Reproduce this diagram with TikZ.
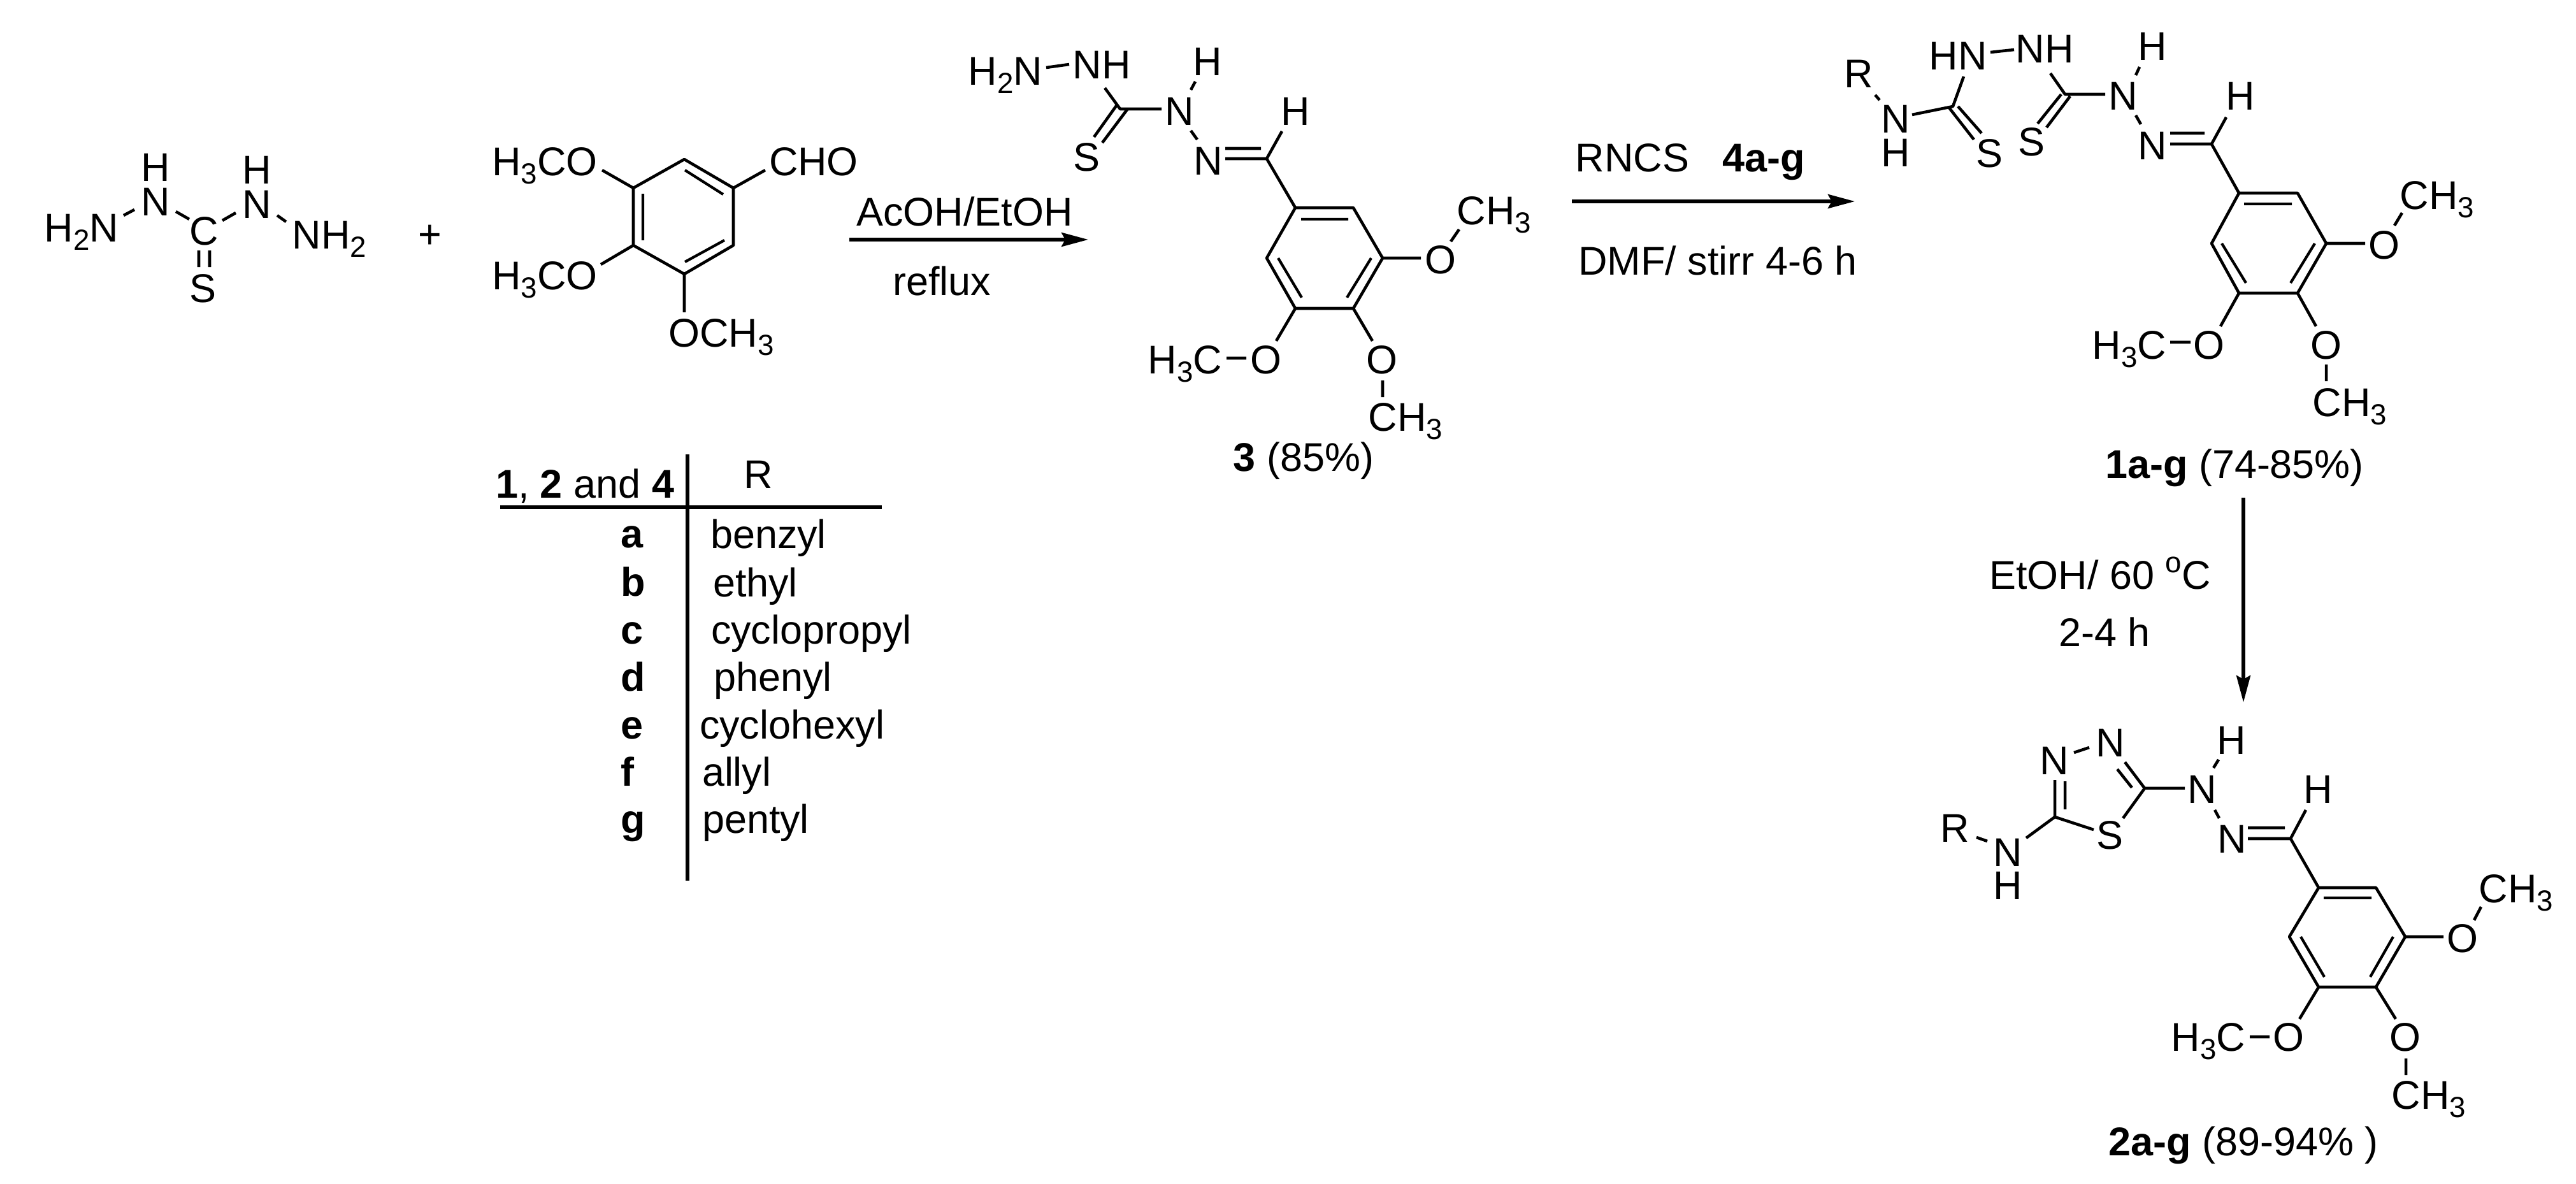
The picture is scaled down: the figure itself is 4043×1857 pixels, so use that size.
\documentclass[tikz,border=0pt]{standalone}
\usepackage{fontspec}
\setmainfont{Liberation Sans}
\usetikzlibrary{arrows.meta}
\newcommand\chemsub[1]{\raisebox{-0.22em}{\fontsize{13}{14}\selectfont #1}}
\newcommand\pts[1]{\foreach \n/\px/\py in {#1}{\coordinate (\n) at (\px,\py);}}
\tikzset{
  lab/.style={inner sep=0pt,outer sep=0pt,anchor=base,font=\fontsize{17.9}{20}\selectfont,text=black},
  labl/.style={lab,anchor=base west},
  bond/.style={line width=1.3pt,line join=round,black},
  inner/.style={line width=1.2pt,black},
  rule/.style={line width=1.45pt,black},
  arr/.style={line width=1.5pt,black,-{Stealth[length=4.2mm,width=2.2mm,inset=0.6mm]}}
}
\begin{document}
\begin{tikzpicture}[x=0.01cm,y=-0.01cm]
\useasboundingbox (0,0) rectangle (4043,1857);
\fill[white] (0,0) rectangle (4043,1857);
% ---------- thiocarbohydrazide
\node[lab] (aA) at (128,379) {H\chemsub{2}N};
\node[lab] (aB) at (244,284) {H};
\node[lab] (aC) at (244,338) {N};
\node[lab] (aD) at (320,384) {C};
\node[lab] (aE) at (403,288) {H};
\node[lab] (aF) at (403,342) {N};
\node[lab] (aG) at (517,390) {NH\chemsub{2}};
\node[lab] (aH) at (318,474) {S};
\node[lab] (plus) at (675,389) {+};
\pts{a1/194/338,a2/211/329,a3/276/332,a4/297/344,a5/349/346,a6/370/334,a7/435/338,a8/449/348,a9/312/393,a10/312/419,a11/329/393,a12/329/419}
\draw[bond] (a1)--(a2) (a3)--(a4) (a5)--(a6) (a7)--(a8) (a9)--(a10) (a11)--(a12);
% ---------- aldehyde
\pts{b1/1074/250,b2/1151/295,b3/1151/385,b4/1074/430,b5/994/385,b6/994/295,b7/1009/304,b8/1009/377,b9/1075/267,b10/1135/305,b11/1075/411,b12/1137/377,b13/945/267,b14/943/415,b15/1074/490,b16/1201/267}
\draw[bond] (b1)--(b2)--(b3)--(b4)--(b5)--(b6)--cycle;
\draw[inner] (b7)--(b8) (b9)--(b10) (b11)--(b12);
\draw[bond] (b6)--(b13) (b5)--(b14) (b4)--(b15) (b2)--(b16);
\node[lab] (bA) at (855,275) {H\chemsub{3}CO};
\node[lab] (bB) at (855,454) {H\chemsub{3}CO};
\node[lab] (bC) at (1132,544) {OCH\chemsub{3}};
\node[lab] (bD) at (1277,275) {CHO};
% ---------- arrow 1
\pts{c1/1333/376,c2/1708/376}
\draw[arr] (c1)--(c2);
\node[lab] (cA) at (1514,354) {AcOH/EtOH};
\node[lab] (cB) at (1478,463) {reflux};
% ---------- compound 3
\node[lab] (dA) at (1578,133) {H\chemsub{2}N};
\node[lab] (dB) at (1729,123) {NH};
\node[lab] (dC) at (1895,118) {H};
\node[lab] (dD) at (1851,196) {N};
\node[lab] (dE) at (1705,268) {S};
\node[lab] (dF) at (1896,274) {N};
\node[lab] (dG) at (2033,196) {H};
\node[lab] (dH) at (2261,429) {O};
\node[lab] (dI) at (2345,352) {CH\chemsub{3}};
\node[lab] (dJ) at (1860,586) {H\chemsub{3}C};
\node[lab] (dK) at (1987,586) {O};
\node[lab] (dL) at (2169,586) {O};
\node[lab] (dM) at (2206,676) {CH\chemsub{3}};
\node[lab] (dN) at (2046,739) {\textbf{3} (85\%)};
\pts{d1/1642/106,d2/1678/101,d3/1869/141,d4/1876/128,d5/1734/138,d6/1758/171,d7/1823/171,d8/1752/166,d9/1717/215,d10/1769/172,d11/1730/224,d12/1869/205,d13/1879/219,d14/1923/233,d15/1979/233,d16/1923/249,d17/1988/249,d18/2012/206}
\draw[bond] (d1)--(d2) (d3)--(d4) (d5)--(d6)--(d7) (d8)--(d9) (d10)--(d11) (d12)--(d13) (d14)--(d15) (d16)--(d17)--(d18);
\pts{e1/2033/326,e2/2124/326,e3/2170/405,e4/2124/484,e5/2033/484,e6/1988/405,e7/2042/344,e8/2116/344,e9/2152/405,e10/2114/467,e11/2006/405,e12/2043/467,e13/2230/405,e14/2277/379,e15/2290/360,e16/2003/535,e17/1925/562,e18/1956/562,e19/2154/535,e20/2170/597,e21/2170/623}
\draw[bond] (d17)--(e1);
\draw[bond] (e1)--(e2)--(e3)--(e4)--(e5)--(e6)--cycle;
\draw[inner] (e7)--(e8) (e9)--(e10) (e11)--(e12);
\draw[bond] (e3)--(e13) (e14)--(e15) (e5)--(e16) (e17)--(e18) (e4)--(e19) (e20)--(e21);
% ---------- arrow 2
\pts{f1/2467/316,f2/2911/316}
\draw[arr] (f1)--(f2);
\node[lab] (fA) at (2562,269) {RNCS};
\node[lab] (fB) at (2768,269) {\textbf{4a-g}};
\node[lab] (fC) at (2696,431) {DMF/ stirr 4-6 h};
% ---------- compound 1
\node[lab] (gA) at (2917,137) {R};
\node[lab] (gB) at (2975,208) {N};
\node[lab] (gC) at (2975,261) {H};
\node[lab] (gD) at (3122,262) {S};
\node[lab] (gE) at (3073,109) {HN};
\node[lab] (gF) at (3209,98) {NH};
\node[lab] (gG) at (3188,244) {S};
\node[lab] (gH) at (3332,172) {N};
\node[lab] (gI) at (3378,94) {H};
\node[lab] (gJ) at (3378,250) {N};
\node[lab] (gK) at (3516,172) {H};
\node[lab] (gL) at (3742,406) {O};
\node[lab] (gM) at (3825,328) {CH\chemsub{3}};
\node[lab] (gN) at (3342,563) {H\chemsub{3}C};
\node[lab] (gO) at (3467,563) {O};
\node[lab] (gP) at (3651,563) {O};
\node[lab] (gQ) at (3688,653) {CH\chemsub{3}};
\node[lab] (gR) at (3507,750) {\textbf{1a-g} (74-85\%)};
\pts{g1/2943/149,g2/2950/157,g3/3001/180,g4/3065/167,g5/3059/169,g6/3098/219,g7/3073/167,g8/3110/209,g9/3082/120,g10/3124/82,g11/3161/78,g12/3218/115,g13/3241/148,g14/3235/148,g15/3198/194,g16/3249/151,g17/3212/200,g18/3304/148,g19/3352/118,g20/3358/105,g21/3352/181,g22/3360/195,g23/3406/209,g24/3460/209,g25/3406/226,g26/3471/226,g27/3494/184}
\draw[bond] (g1)--(g2) (g3)--(g4)--(g9) (g5)--(g6) (g7)--(g8) (g10)--(g11) (g12)--(g13)--(g18) (g14)--(g15) (g16)--(g17) (g19)--(g20) (g21)--(g22) (g23)--(g24) (g25)--(g26)--(g27);
\pts{h1/3514/303,h2/3606/303,h3/3651/382,h4/3606/460,h5/3514/460,h6/3471/382,h7/3522/320,h8/3597/320,h9/3633/382,h10/3595/444,h11/3487/382,h12/3525/444,h13/3712/382,h14/3758/354,h15/3770/334,h16/3485/512,h17/3406/537,h18/3438/537,h19/3635/512,h20/3651/572,h21/3651/598}
\draw[bond] (g26)--(h1);
\draw[bond] (h1)--(h2)--(h3)--(h4)--(h5)--(h6)--cycle;
\draw[inner] (h7)--(h8) (h9)--(h10) (h11)--(h12);
\draw[bond] (h3)--(h13) (h14)--(h15) (h5)--(h16) (h17)--(h18) (h4)--(h19) (h20)--(h21);
% ---------- arrow 3
\pts{i1/3521/781,i2/3521/1102}
\draw[arr] (i1)--(i2);
\node[lab] (iA) at (3296,924) {EtOH/ 60 \raisebox{0.4em}{\fontsize{13}{14}\selectfont o}C};
\node[lab] (iB) at (3303,1014) {2-4 h};
% ---------- compound 2
\node[lab] (jA) at (3068,1321) {R};
\node[lab] (jB) at (3151,1359) {N};
\node[lab] (jC) at (3151,1411) {H};
\node[lab] (jD) at (3224,1215) {N};
\node[lab] (jE) at (3312,1187) {N};
\node[lab] (jF) at (3311,1332) {S};
\node[lab] (jG) at (3456,1260) {N};
\node[lab] (jH) at (3502,1183) {H};
\node[lab] (jI) at (3503,1338) {N};
\node[lab] (jJ) at (3638,1260) {H};
\node[lab] (jK) at (3865,1494) {O};
\node[lab] (jL) at (3949,1416) {CH\chemsub{3}};
\node[lab] (jM) at (3466,1649) {H\chemsub{3}C};
\node[lab] (jN) at (3592,1649) {O};
\node[lab] (jO) at (3775,1649) {O};
\node[lab] (jP) at (3812,1740) {CH\chemsub{3}};
\node[lab] (jQ) at (3521,1813) {\textbf{2a-g} (89-94\% )};
\pts{j1/3102/1314,j2/3119/1320,j3/3180/1315,j4/3225/1282,j5/3225/1224,j6/3241/1270,j7/3241/1226,j8/3255/1181,j9/3279/1173,j10/3335/1196,j11/3366/1237,j12/3323/1207,j13/3346/1236,j14/3332/1284,j15/3286/1302,j16/3429/1237,j17/3474/1205,j18/3482/1192,j19/3476/1271,j20/3483/1284,j21/3528/1299,j22/3586/1299,j23/3528/1316,j24/3595/1316,j25/3619/1271}
\draw[bond] (j1)--(j2) (j3)--(j4)--(j5) (j6)--(j7) (j8)--(j9) (j10)--(j11)--(j14) (j12)--(j13) (j4)--(j15) (j11)--(j16) (j17)--(j18) (j19)--(j20) (j21)--(j22) (j23)--(j24)--(j25);
\pts{k1/3639/1393,k2/3729/1393,k3/3775/1470,k4/3729/1549,k5/3639/1549,k6/3593/1470,k7/3647/1409,k8/3722/1409,k9/3756/1470,k10/3720/1533,k11/3611/1470,k12/3648/1533,k13/3835/1470,k14/3883/1444,k15/3894/1423,k16/3609/1599,k17/3531/1627,k18/3562/1627,k19/3760/1599,k20/3776/1661,k21/3776/1687}
\draw[bond] (j24)--(k1);
\draw[bond] (k1)--(k2)--(k3)--(k4)--(k5)--(k6)--cycle;
\draw[inner] (k7)--(k8) (k9)--(k10) (k11)--(k12);
\draw[bond] (k3)--(k13) (k14)--(k15) (k5)--(k16) (k17)--(k18) (k4)--(k19) (k20)--(k21);
% ---------- table
\pts{t1/1079/713,t2/1079/1382,t3/785/796,t4/1384/796}
\draw[rule] (t1)--(t2) (t3)--(t4);
\node[lab] (tH) at (918,781) {\textbf{1}, \textbf{2} and \textbf{4}};
\node[lab] (tR) at (1190,766) {R};
\node[labl] (ta) at (974,859) {\textbf{a}};
\node[labl] (tb) at (974,935) {\textbf{b}};
\node[labl] (tc) at (974,1010) {\textbf{c}};
\node[labl] (td) at (974,1084) {\textbf{d}};
\node[labl] (te) at (974,1159) {\textbf{e}};
\node[labl] (tf) at (974,1233) {\textbf{f}};
\node[labl] (tg) at (974,1307) {\textbf{g}};
\node[labl] (va) at (1115,860) {benzyl};
\node[labl] (vb) at (1119,936) {ethyl};
\node[labl] (vc) at (1116,1010) {cyclopropyl};
\node[labl] (vd) at (1120,1084) {phenyl};
\node[labl] (ve) at (1098,1159) {cyclohexyl};
\node[labl] (vf) at (1102,1233) {allyl};
\node[labl] (vg) at (1102,1307) {pentyl};
\end{tikzpicture}
\end{document}
